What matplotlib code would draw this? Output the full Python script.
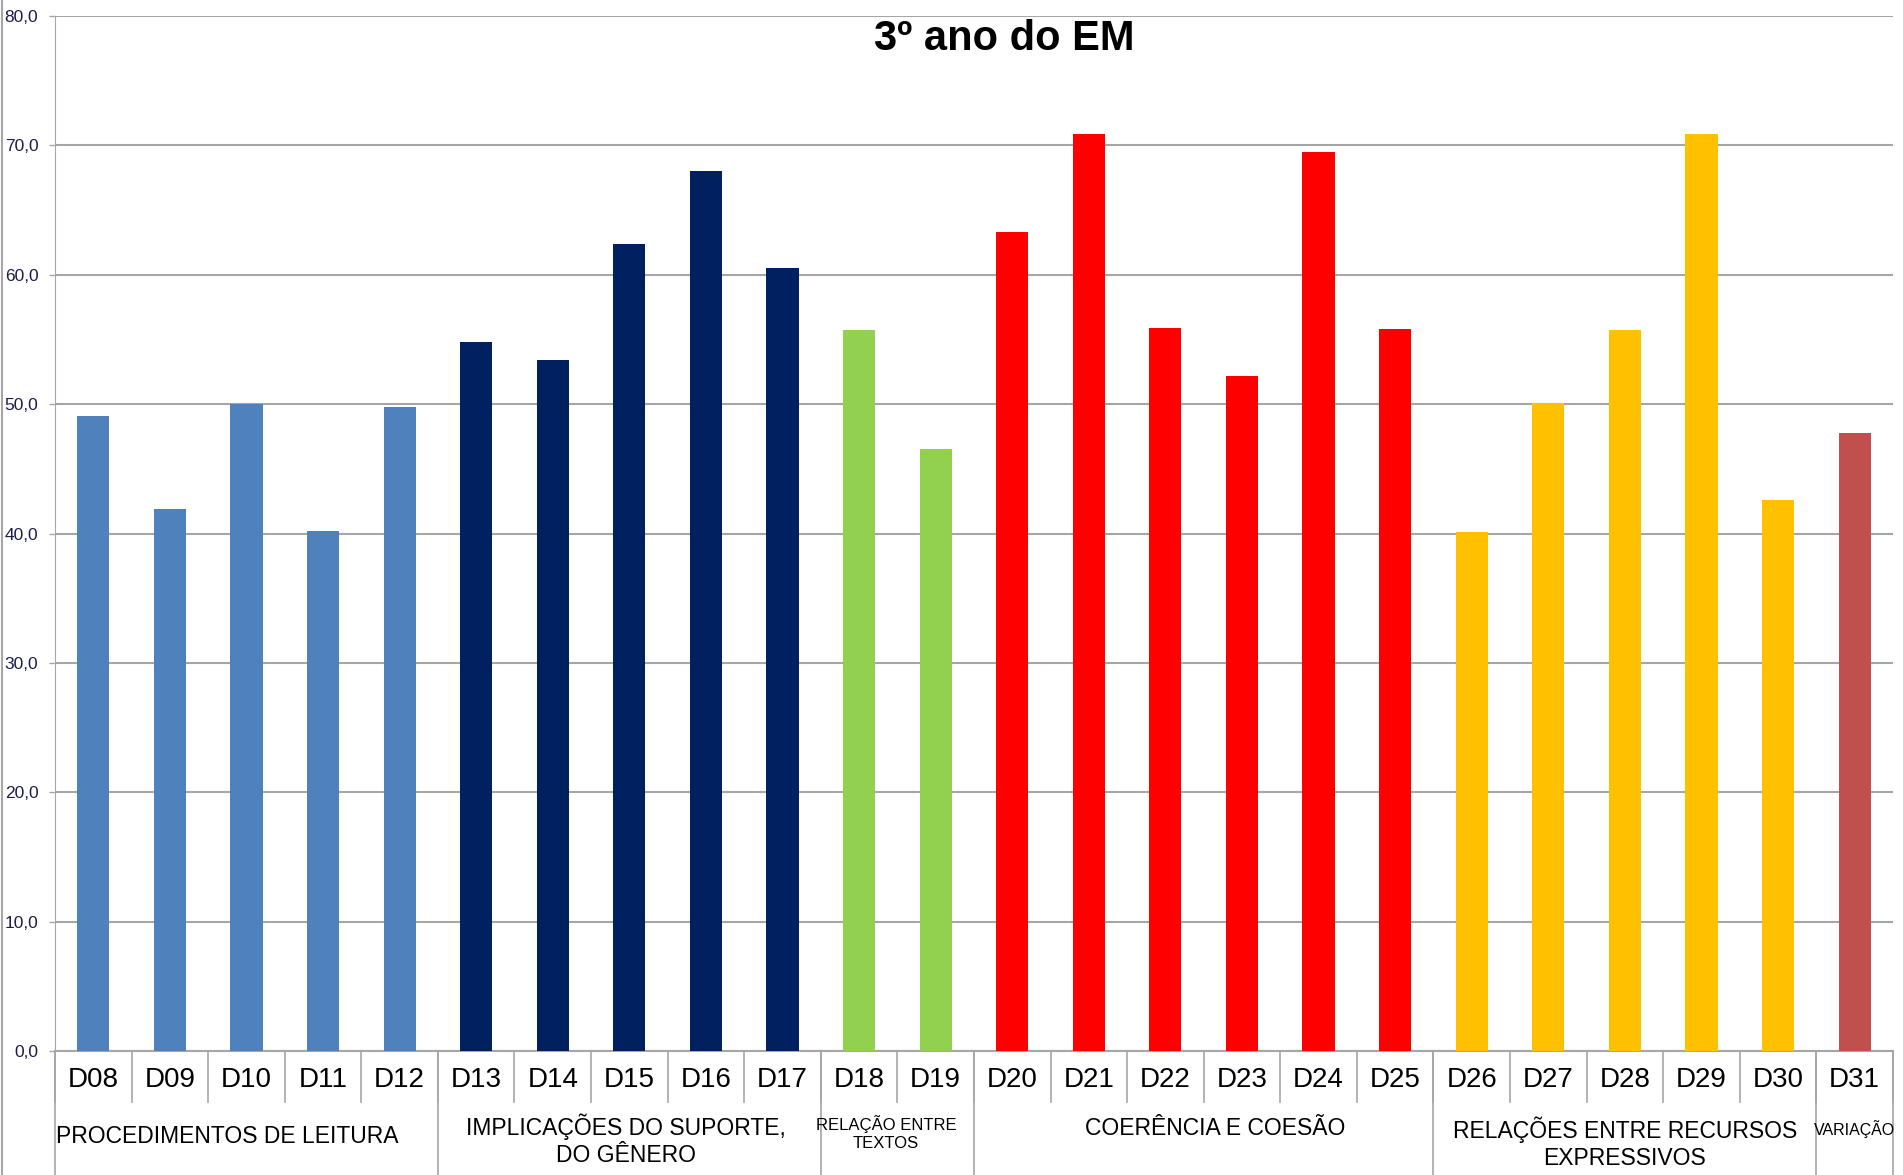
import matplotlib
matplotlib.use("Agg")
import matplotlib.pyplot as plt
from matplotlib.lines import Line2D
from matplotlib.ticker import FuncFormatter

# descriptors and percentages
descritores = ["D08", "D09", "D10", "D11", "D12",
               "D13", "D14", "D15", "D16", "D17",
               "D18", "D19",
               "D20", "D21", "D22", "D23", "D24", "D25",
               "D26", "D27", "D28", "D29", "D30",
               "D31"]
valores = [49.1, 41.9, 50.0, 40.2, 49.8,
           54.8, 53.4, 62.4, 68.0, 60.5,
           55.7, 46.5,
           63.3, 70.9, 55.9, 52.2, 69.5, 55.8,
           40.1, 50.1, 55.7, 70.9, 42.6,
           47.8]

# topic groups
grupos = ["PROCEDIMENTOS DE LEITURA",
          "IMPLICAÇÕES DO SUPORTE,\nDO GÊNERO",
          "RELAÇÃO ENTRE\nTEXTOS",
          "COERÊNCIA E COESÃO",
          "RELAÇÕES ENTRE RECURSOS\nEXPRESSIVOS",
          "VARIAÇÃO"]
tamanhos = [5, 5, 2, 6, 5, 1]
cores_grupo = ["#4f81bd", "#002060", "#92d050", "#ff0000", "#ffc000", "#c0504d"]
fonte_grupo = [16.5, 16.5, 12, 16.5, 16.5, 11.5]
y_grupo = [-0.083, -0.086, -0.079, -0.075, -0.089, -0.075]
desloc_grupo = [-0.25, -0.05, -0.15, 0.15, 0.0, 0.0]

fam = ["Liberation Sans", "DejaVu Sans"]

cores = []
for c, n in zip(cores_grupo, tamanhos):
    cores += [c] * n

fig = plt.figure(figsize=(19.03, 11.75), dpi=100)
ax = fig.add_axes([0.0289, 0.1055, 0.9658, 0.8809])

x = list(range(len(descritores)))
ax.bar(x, valores, width=0.42, color=cores, zorder=3)

ax.set_xlim(-0.5, len(descritores) - 0.5)
ax.set_ylim(0, 80)
ax.set_yticks(range(0, 81, 10))
ax.yaxis.set_major_formatter(FuncFormatter(lambda v, p: f"{v:.1f}".replace(".", ",")))
ax.grid(axis="y", color="#a6a6a6", linewidth=1.5, zorder=0)
ax.set_xticks([])
for lab in ax.get_yticklabels():
    lab.set_fontfamily(fam)
ax.tick_params(axis="y", length=4, width=1, color="#a6a6a6", pad=8,
               labelsize=12.5, labelcolor="#1c1c48")
for s in ["top", "right"]:
    ax.spines[s].set_visible(False)
ax.spines["left"].set_color("#a6a6a6")
ax.spines["bottom"].set_color("#a6a6a6")
ax.spines["bottom"].set_linewidth(1.5)

trans = ax.get_xaxis_transform()

# descriptor labels and short separators
for i, d in enumerate(descritores):
    ax.text(i, -0.028, d, transform=trans, ha="center", va="center",
            fontsize=20, family=fam)
for i in range(len(descritores) + 1):
    ax.plot([i - 0.5, i - 0.5], [0, -0.049], transform=trans, color="#a6a6a6",
            linewidth=1.2, clip_on=False)

# group labels and long separators
inicio = 0
for nome, n, fs, yg, dx in zip(grupos, tamanhos, fonte_grupo, y_grupo, desloc_grupo):
    ax.plot([inicio - 0.5, inicio - 0.5], [0, -0.13], transform=trans,
            color="#a6a6a6", linewidth=1.2, clip_on=False)
    centro = inicio + (n - 1) / 2 + dx
    ax.text(centro, yg, nome, transform=trans, ha="center", va="center",
            fontsize=fs, family=fam, linespacing=1.25)
    inicio += n
ax.plot([inicio - 0.5, inicio - 0.5], [0, -0.13], transform=trans,
        color="#a6a6a6", linewidth=1.2, clip_on=False)

fig.text(0.5276, 0.967, "3º ano do EM", ha="center", va="center",
         fontsize=30, fontweight="bold", family=fam)

fig.add_artist(Line2D([0.0012, 0.0012], [0, 1], color="#a6a6a6", linewidth=1.5))

fig.savefig("out.png", dpi=100)
